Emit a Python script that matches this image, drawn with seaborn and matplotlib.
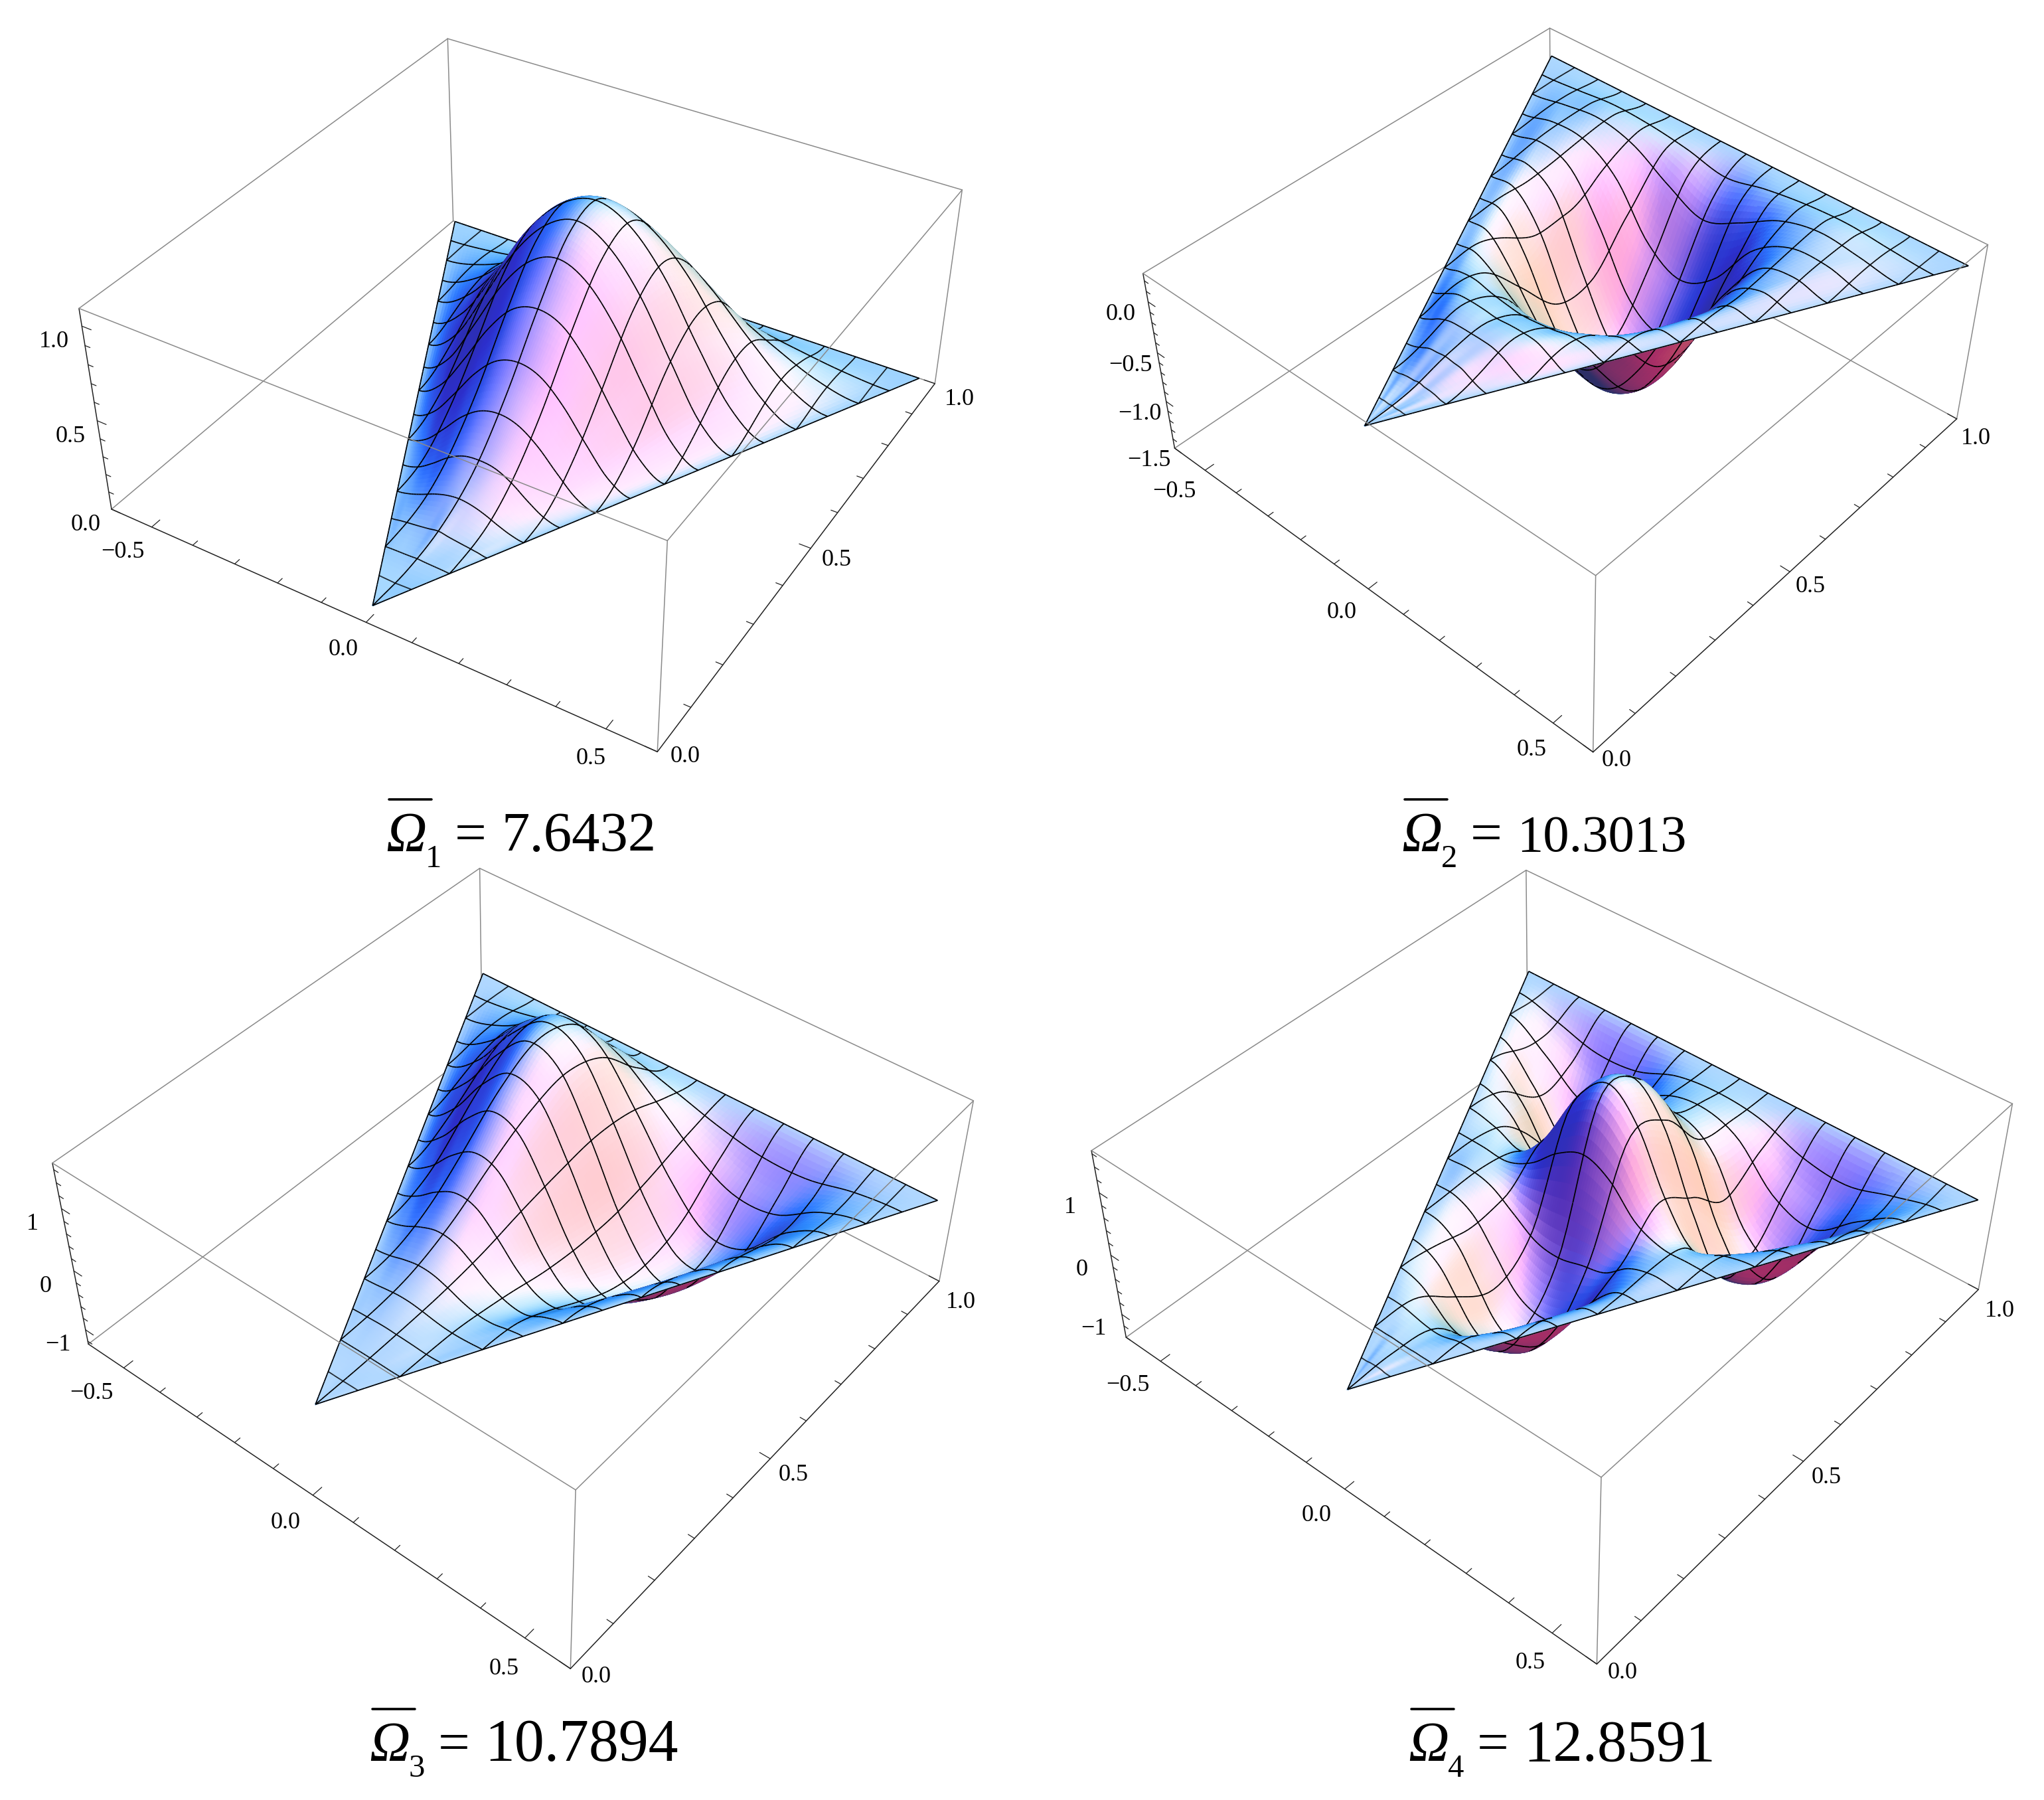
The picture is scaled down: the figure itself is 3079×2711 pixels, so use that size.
import numpy as np
import matplotlib
matplotlib.use('Agg')
import matplotlib.pyplot as plt
from matplotlib.lines import Line2D
import seaborn as sns
from mpl_toolkits.mplot3d import proj3d
from mpl_toolkits.mplot3d.art3d import Poly3DCollection

sns.set_theme(style='white')
plt.rcParams['font.family'] = ['Liberation Serif', 'DejaVu Serif']

# heights, rows go from the front vertex to the back edge,
# columns from the left edge to the right edge (the edges themselves are zero)
mode1 = [
 [.00,.00,.00,.00,.00,.00,.00,.00,.00],
 [.01,.02,.03,.04,.05,.04,.03,.02,.01],
 [.02,.07,.13,.17,.18,.17,.13,.07,.02],
 [.05,.17,.30,.39,.42,.39,.30,.17,.05],
 [.09,.29,.51,.67,.72,.67,.51,.29,.09],
 [.12,.40,.69,.89,.97,.89,.69,.40,.12],
 [.13,.41,.72,.93,1.01,.93,.72,.41,.13],
 [.10,.31,.54,.70,.76,.70,.54,.31,.10],
 [.04,.12,.21,.28,.30,.28,.21,.12,.04],
]
mode2 = [
 [.00,.01,.01,.01,.02,.01,.01,.01,.00],
 [.02,.06,.10,.11,.12,.11,.10,.06,.02],
 [.06,.13,.15,.15,.14,.15,.15,.13,.06],
 [.04,.02,-.05,-.10,-.12,-.10,-.05,.02,.04],
 [.00,-.22,-.52,-.78,-.85,-.78,-.52,-.22,.00],
 [.00,-.32,-.85,-1.25,-1.40,-1.27,-.88,-.34,.00],
 [.05,-.12,-.70,-1.25,-1.44,-1.27,-.72,-.12,.05],
 [.08,.05,-.20,-.70,-.90,-.70,-.20,.05,.08],
 [.05,.10,.05,-.08,-.22,-.08,.05,.10,.05],
]
mode3 = [
 [.00,.00,.00,.00,.00,.00,.00,.00,.00],
 [.01,.02,.03,.03,.02,.01,.00,-.01,-.01],
 [.03,.09,.13,.12,.06,-.02,-.07,-.07,-.03],
 [.10,.28,.40,.36,.15,-.10,-.26,-.28,-.10],
 [.20,.58,.83,.75,.30,-.25,-.60,-.60,-.20],
 [.32,.90,1.28,1.12,.42,-.40,-.95,-.95,-.30],
 [.38,1.08,1.55,1.35,.50,-.50,-1.15,-1.12,-.35],
 [.32,.95,1.35,1.18,.42,-.45,-1.06,-1.00,-.32],
 [.14,.42,.60,.52,.17,-.22,-.48,-.46,-.14],
]
mode4 = [
 [.00,.00,.01,.01,.01,.01,.01,.00,.00],
 [.00,-.02,-.07,-.12,-.15,-.15,-.10,-.03,.00],
 [-.05,-.20,-.50,-.80,-.95,-.95,-.70,-.30,-.05],
 [-.03,-.25,-.70,-1.15,-1.35,-1.35,-1.00,-.50,-.08],
 [.03,-.05,-.30,-.55,-.60,-.50,-.40,-.10,.02],
 [-.05,-.10,.35,1.10,1.45,1.10,.35,-.10,-.05],
 [-.25,-.80,-.30,.85,1.35,.85,-.30,-1.10,-.30],
 [-.55,-1.30,-.95,.02,.35,.02,-1.05,-1.40,-.55],
 [-.30,-.65,-.55,-.05,.10,-.05,-.55,-.70,-.30],
]
modes = [mode1, mode2, mode3, mode4]

freq_names = ['1', '2', '3', '4']
freq_values = ['7.6432', '10.3013', '10.7894', '12.8591']

x_ticks = [-.5, -.4, -.3, -.2, -.1, 0, .1, .2, .3, .4, .5]
x_labels = {-.5: '\u22120.5', 0: '0.0', .5: '0.5'}
y_ticks = [0, .1, .2, .3, .4, .5, .6, .7, .8, .9, 1]
y_labels = {0: '0.0', .5: '0.5', 1: '1.0'}
z_limits = [(0, 1.09), (-1.5, .27), (-1.25, 1.7), (-1.4, 1.65)]
z_ticks = [
 [0, .1, .2, .3, .4, .5, .6, .7, .8, .9, 1],
 [-1.5, -1.4, -1.3, -1.2, -1.1, -1, -.9, -.8, -.7, -.6, -.5, -.4, -.3, -.2, -.1, 0, .1, .2],
 [-1.2, -1, -.8, -.6, -.4, -.2, 0, .2, .4, .6, .8, 1, 1.2, 1.4, 1.6],
 [-1.4, -1.2, -1, -.8, -.6, -.4, -.2, 0, .2, .4, .6, .8, 1, 1.2, 1.4, 1.6],
]
z_labels = [
 {0: '0.0', .5: '0.5', 1: '1.0'},
 {-1.5: '\u22121.5', -1: '\u22121.0', -.5: '\u22120.5', 0: '0.0'},
 {-1: '\u22121', 0: '0', 1: '1'},
 {-1: '\u22121', 0: '0', 1: '1'},
]

# camera of each panel
elevs = [36.34, 41.71, 43.64, 42.50]
azims = [-58.53, -48.14, -50.91, -49.71]
rolls = [.08, -.08, -.07, -.16]
focals = [.435, .453, .448, .454]
box_y = [.999, 1.002, 1.002, 1.002]
box_z = [.395, .406, .397, .402]
ax_left = [129.3, 1728.0, 90.2, 1653.0]
ax_top = [-121.2, -75.6, 1188.6, 1186.1]
ax_size = [1328.9, 1237.5, 1350.3, 1350.1]
title_left = [581, 2111, 556, 2121]
title_base = [1282, 1282, 2652, 2652]
value_size = [30.5, 28.3, 32.3, 32.0]

FIG_W, FIG_H = 3079, 2711
XLIM = (-.6, .6)
YLIM = (0, 1)
FRONT = (-.015, .035)
BACK_L = -.595
BACK_R = .565
N_FINE = 110
GREY = '#8a8a8a'
DARK = '#222222'

# lights in image space, close to the Mathematica default ones
LIGHT_AMB = np.array([.2, .188, .4])
LIGHT_COL = np.array([[1.1, 0, 0], [0, .82, 0], [0, 0, .8]])
LIGHT_DIR = np.array([[1.5, 0, 2], [1.5, 1.5, 2], [.05, 1.5, 2]], float)
LIGHT_DIR /= np.linalg.norm(LIGHT_DIR, axis=1, keepdims=True)
BASE_COL = np.array([.86, .96, 1.])


def smooth_eval(table, u, v):
    # catmull-rom through the table, mirrored at the border so the plate is clamped
    t = np.zeros((11, 11))
    t[1:10, 1:10] = np.array(table)
    p = np.pad(t, 1, mode='reflect')
    iu = np.clip(np.floor(u * 10).astype(int), 0, 9)
    iv = np.clip(np.floor(v * 10).astype(int), 0, 9)
    a = u * 10 - iu
    b = v * 10 - iv

    def w(s):
        return [-.5*s + s**2 - .5*s**3, 1 - 2.5*s**2 + 1.5*s**3,
                .5*s + 2*s**2 - 1.5*s**3, -.5*s**2 + .5*s**3]
    wu, wv = w(a), w(b)
    z = np.zeros_like(u, dtype=float)
    for i in range(4):
        for j in range(4):
            z += wv[i] * wu[j] * p[iv + i, iu + j]
    return z


def to_xy(u, v):
    y = FRONT[1] + v * (YLIM[1] - FRONT[1])
    x = FRONT[0] + v * ((BACK_L - FRONT[0]) + u * (BACK_R - BACK_L))
    return x, y


def to_uv(x, y):
    v = (y - FRONT[1]) / (YLIM[1] - FRONT[1])
    safe = np.maximum(v, 1e-6)
    u = ((x - FRONT[0]) / safe - (BACK_L - FRONT[0])) / (BACK_R - BACK_L)
    return np.clip(u, 0, 1), np.clip(v, 0, 1)


def label3d(ax, x, y, z, s):
    # tick labels go through the axes' own projection
    x2, y2, _ = proj3d.proj_transform(x, y, z, ax.get_proj())
    ax.text2D(x2, y2, s, transform=ax.transData, ha='center', va='center', fontsize=13, color='black', zorder=6)


def draw_panel(ax, k):
    table = modes[k]
    zl = z_limits[k]
    xr, yr, zr = XLIM[1] - XLIM[0], YLIM[1] - YLIM[0], zl[1] - zl[0]
    asp = np.array([1, box_y[k], box_z[k]])
    bs = asp / np.linalg.norm(asp) * 1.8294640721620434 * 25 / 24

    e, a = np.radians(elevs[k]), np.radians(azims[k])
    vd = np.array([np.cos(e) * np.cos(a), np.cos(e) * np.sin(a), np.sin(e)])
    rd = np.array([-np.sin(a), np.cos(a), 0])
    ud = np.cross(vd, rd)
    eye = bs / 2 + 10 * focals[k] * vd

    def scaled(x, y, z):
        return np.stack([(x - XLIM[0]) / xr * bs[0], (y - YLIM[0]) / yr * bs[1], (z - zl[0]) / zr * bs[2]], -1)

    # surface facets
    g = np.linspace(0, 1, N_FINE + 1)
    U, V = np.meshgrid(g, g)
    X, Y = to_xy(U, V)
    Z = smooth_eval(table, U, V)
    P = scaled(X, Y, Z)
    du = np.gradient(P, axis=1)
    dv = np.gradient(P, axis=0)
    nrm = np.cross(du, dv)
    ln = np.linalg.norm(nrm, axis=-1, keepdims=True)
    nrm = np.where(ln > 1e-9, nrm / np.maximum(ln, 1e-9), np.array([0, 0, 1.]))
    nrm = nrm * np.sign(nrm[..., 2:3] + 1e-9)
    to_eye = eye - P
    flip = np.sum(nrm * to_eye, axis=-1, keepdims=True) < 0
    nrm = np.where(flip, -nrm, nrm)
    nv = np.stack([nrm @ rd, nrm @ ud, nrm @ vd], -1)
    dots = np.clip(nv @ LIGHT_DIR.T, 0, None)
    col = LIGHT_AMB + dots @ LIGHT_COL
    col = np.clip(col * BASE_COL, 0, 1)

    W = np.stack([X, Y, Z], -1)
    quads = np.stack([W[:-1, :-1], W[:-1, 1:], W[1:, 1:], W[1:, :-1]], 2).reshape(-1, 4, 3)
    qcol = ((col[:-1, :-1] + col[:-1, 1:] + col[1:, 1:] + col[1:, :-1]) / 4).reshape(-1, 3)
    qcol = np.c_[qcol, np.ones(len(qcol))]

    # mesh lines, moved a little towards the eye so they are painted over their facets
    def mesh_piece(xs, ys):
        us, vs = to_uv(xs, ys)
        zs = smooth_eval(table, us, vs)
        S = scaled(xs, ys, zs)
        d = eye - S
        d = d / np.linalg.norm(d, axis=-1, keepdims=True)
        S = S + .025 * d
        L = np.stack([S[..., 0] / bs[0] * xr + XLIM[0], S[..., 1] / bs[1] * yr + YLIM[0],
                      S[..., 2] / bs[2] * zr + zl[0]], -1)
        return np.stack([L[:-1], L[1:], L[1:], L[:-1]], 1)

    pieces = []
    dx = (BACK_R - BACK_L) / 16
    dy = (YLIM[1] - FRONT[1]) / 16
    for i in range(1, 16):
        x0 = BACK_L + i * dx
        t = (x0 - FRONT[0]) / (BACK_L - FRONT[0]) if x0 < FRONT[0] else (x0 - FRONT[0]) / (BACK_R - FRONT[0])
        y0 = FRONT[1] + t * (YLIM[1] - FRONT[1])
        ys = np.linspace(y0, YLIM[1], 70)
        pieces.append(mesh_piece(np.full_like(ys, x0), ys))
    for j in range(1, 16):
        y0 = FRONT[1] + j * dy
        v0 = (y0 - FRONT[1]) / (YLIM[1] - FRONT[1])
        xs = np.linspace(FRONT[0] + v0 * (BACK_L - FRONT[0]), FRONT[0] + v0 * (BACK_R - FRONT[0]), 70)
        pieces.append(mesh_piece(xs, np.full_like(xs, y0)))
    # triangle outline
    corner_x = [FRONT[0], BACK_L, BACK_R, FRONT[0]]
    corner_y = [FRONT[1], YLIM[1], YLIM[1], FRONT[1]]
    for n in range(3):
        s = np.linspace(0, 1, 70)
        pieces.append(mesh_piece(corner_x[n] + s * (corner_x[n + 1] - corner_x[n]),
                                 corner_y[n] + s * (corner_y[n + 1] - corner_y[n])))
    mesh = np.concatenate(pieces)
    mcol = np.tile([0, 0, 0, 1.], (len(mesh), 1))

    polys = np.concatenate([quads, mesh])
    cols = np.concatenate([qcol, mcol])
    surf = Poly3DCollection(polys, facecolors=cols, edgecolors=cols, linewidths=.62, zorder=3)
    surf.set_clip_on(False)
    ax.add_collection3d(surf)

    # box
    x0, x1 = XLIM
    y0, y1 = YLIM
    z0, z1 = zl
    behind = [((x0, y0, z0), (x0, y1, z0)), ((x0, y1, z0), (x1, y1, z0)), ((x0, y1, z0), (x0, y1, z1)),
              ((x1, y0, z0), (x1, y0, z1)), ((x1, y1, z0), (x1, y1, z1)),
              ((x0, y1, z1), (x1, y1, z1)), ((x0, y0, z1), (x0, y1, z1))]
    above = [((x0, y0, z1), (x1, y0, z1)), ((x1, y0, z1), (x1, y1, z1))]
    black = [((x0, y0, z0), (x1, y0, z0)), ((x1, y0, z0), (x1, y1, z0)), ((x0, y0, z0), (x0, y0, z1))]
    for p, q in behind:
        ax.plot(*zip(p, q), color=GREY, lw=.55, zorder=1, clip_on=False)
    for p, q in above:
        ax.plot(*zip(p, q), color=GREY, lw=.55, zorder=5, clip_on=False)
    for p, q in black:
        ax.plot(*zip(p, q), color=DARK, lw=.55, zorder=2, clip_on=False)

    # ticks and labels
    for t in x_ticks:
        major = t in x_labels
        ax.plot([t, t], [y0, y0 + (.02 if major else .012)], [z0, z0], color=DARK, lw=.45, zorder=2, clip_on=False)
        if major:
            label3d(ax, t + .012 * (t + .5), y0 - .07 + .01 * (t + .5), z0, x_labels[t])
    for t in y_ticks:
        major = t in y_labels
        ax.plot([x1, x1 - (.024 if major else .014)], [t, t], [z0, z0], color=DARK, lw=.45, zorder=2, clip_on=False)
        if major:
            label3d(ax, x1 + .045 + .02 * t, t + .012 - .032 * t, z0, y_labels[t])
    for t in z_ticks[k]:
        major = t in z_labels[k]
        ax.plot([x0, x0 + (.022 if major else .012)], [y0, y0], [t, t], color=DARK, lw=.45, zorder=2, clip_on=False)
        if major:
            label3d(ax, x0 - .011, y0 - .051, t, z_labels[k][t])


def draw_title(fig, k):
    left, base = title_left[k], title_base[k]
    fx = lambda px: px / FIG_W
    fy = lambda px: 1 - px / FIG_H
    fig.text(fx(left), fy(base), '\u03a9', style='italic', fontsize=30.5, ha='left', va='baseline', color='black')
    fig.add_artist(Line2D([fx(left + 5), fx(left + 69)], [fy(base - 78), fy(base - 78)], color='black', lw=1.3))
    fig.text(fx(left + 60), fy(base + 24), freq_names[k], fontsize=17.5, ha='left', va='baseline', color='black')
    fig.text(fx(left + 104), fy(base), '=', fontsize=30.5, ha='left', va='baseline', color='black')
    fig.text(fx(left + 174), fy(base), freq_values[k], fontsize=value_size[k], ha='left', va='baseline', color='black')


fig = plt.figure(figsize=(FIG_W / 200, FIG_H / 200), dpi=200)
for k in range(4):
    ax = fig.add_axes([ax_left[k] / FIG_W, 1 - (ax_top[k] + ax_size[k]) / FIG_H,
                       ax_size[k] / FIG_W, ax_size[k] / FIG_H], projection='3d')
    ax.computed_zorder = False
    ax.set_xlim(*XLIM)
    ax.set_ylim(*YLIM)
    ax.set_zlim(*z_limits[k])
    ax.set_xticks([])
    ax.set_yticks([])
    ax.set_zticks([])
    ax.view_init(elevs[k], azims[k], rolls[k])
    ax.set_proj_type('persp', focal_length=focals[k])
    ax.set_box_aspect((1, box_y[k], box_z[k]))
    ax.set_axis_off()
    ax.patch.set_alpha(0)
    draw_panel(ax, k)
    draw_title(fig, k)

fig.savefig('out.png', dpi=200, facecolor='white')
